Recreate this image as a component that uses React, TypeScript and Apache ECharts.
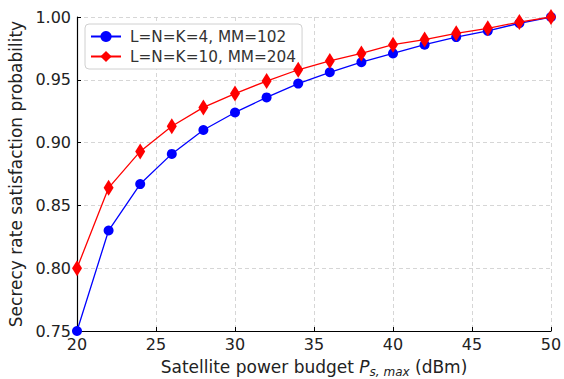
import React, { useEffect, useRef } from "react";
import * as echarts from "echarts";

const xValues = [20, 22, 24, 26, 28, 30, 32, 34, 36, 38, 40, 42, 44, 46, 48, 50];
const seriesA = [0.75, 0.83, 0.867, 0.891, 0.91, 0.924, 0.936, 0.947, 0.956, 0.964, 0.971, 0.978, 0.984, 0.989, 0.995, 1.0];
const seriesB = [0.8, 0.864, 0.893, 0.913, 0.928, 0.939, 0.949, 0.958, 0.965, 0.971, 0.978, 0.982, 0.987, 0.991, 0.996, 1.0];
const nameA = "L=N=K=4, MM=102";
const nameB = "L=N=K=10, MM=204";

const FONT = "DejaVu Sans";

export default function App() {
  const ref = useRef<HTMLDivElement>(null);
  useEffect(() => {
    if (!ref.current) return;
    const chart = echarts.init(ref.current, null, { renderer: "svg" });
    const gridLine = { show: true, lineStyle: { color: "#cccccc", type: [4, 3] as any, width: 0.8 } };
    chart.setOption({
      animation: false,
      textStyle: { fontFamily: FONT, color: "#222" },
      grid: { left: 77, right: 13, top: 17, bottom: 48, containLabel: false, outerBoundsMode: "none" },
      legend: {
        left: 85,
        top: 24,
        orient: "vertical",
        padding: [5, 6, 5, 5],
        itemGap: 5,
        itemWidth: 30,
        itemHeight: 14,
        backgroundColor: "#fff",
        borderColor: "#d0d0d0",
        borderWidth: 1,
        borderRadius: 4,
        textStyle: { fontFamily: FONT, fontSize: 15.3, color: "#333", padding: [0, 0, 0, 4] },
        data: [nameA, nameB],
      },
      xAxis: {
        type: "value",
        min: 20,
        max: 50,
        interval: 5,
        name: "{n|Satellite power budget }{i|P}{s|s, max}{n| (dBm)}",
        nameLocation: "middle",
        nameGap: 25,
        nameTextStyle: {
          rich: {
            n: { fontFamily: FONT, fontSize: 17, color: "#222" },
            i: { fontFamily: FONT, fontSize: 17, fontStyle: "italic", color: "#222" },
            s: { fontFamily: FONT, fontSize: 12, fontStyle: "italic", color: "#222", padding: [10, 0, 0, 0] },
          },
        },
        axisLine: { show: true, lineStyle: { color: "#000", width: 1.2 } },
        axisTick: { show: true, inside: true, length: 4, lineStyle: { color: "#000" } },
        axisLabel: { fontFamily: FONT, fontSize: 16, color: "#222", margin: 5, hideOverlap: false },
        splitLine: gridLine,
      },
      yAxis: {
        type: "value",
        min: 0.75,
        max: 1.0,
        interval: 0.05,
        name: "Secrecy rate satisfaction probability",
        nameLocation: "middle",
        nameGap: 50,
        nameTextStyle: { fontFamily: FONT, fontSize: 17, color: "#222" },
        axisLine: { show: true, lineStyle: { color: "#000", width: 1.2 } },
        axisTick: { show: true, inside: true, length: 4, lineStyle: { color: "#000" } },
        axisLabel: {
          fontFamily: FONT,
          fontSize: 16,
          color: "#222",
          margin: 6,
          hideOverlap: false,
          formatter: (v: number) => v.toFixed(2),
        },
        splitLine: gridLine,
      },
      series: [
        {
          name: nameA,
          type: "line",
          data: xValues.map((x, i) => [x, seriesA[i]]),
          symbol: "circle",
          symbolSize: 10,
          itemStyle: { color: "#0000ff" },
          lineStyle: { color: "#0000ff", width: 1.3 },
          clip: false,
          z: 3,
        },
        {
          name: nameB,
          type: "line",
          data: xValues.map((x, i) => [x, seriesB[i]]),
          symbol: "diamond",
          symbolSize: [10, 16],
          itemStyle: { color: "#ff0000" },
          lineStyle: { color: "#ff0000", width: 1.3 },
          clip: false,
          z: 4,
        },
      ],
    });
    return () => chart.dispose();
  }, []);
  return <div ref={ref} style={{ width: 564, height: 379, position: "absolute", left: 0, top: 0 }} />;
}
